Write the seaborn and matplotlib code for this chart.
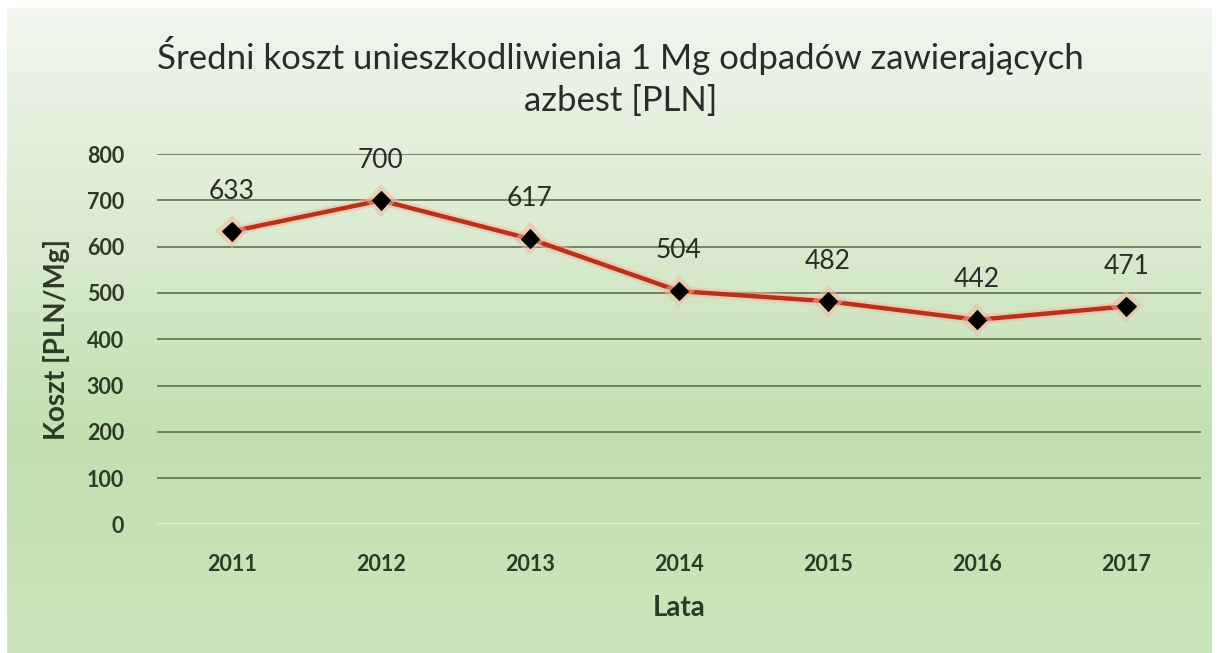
import numpy as np
import matplotlib
matplotlib.use('Agg')
import matplotlib.pyplot as plt
import matplotlib.patheffects as pe
from matplotlib.colors import LinearSegmentedColormap
import seaborn as sns

# Dane
lata = ['2011', '2012', '2013', '2014', '2015', '2016', '2017']
koszt = [633, 700, 617, 504, 482, 442, 471]
y_ticks = [0, 100, 200, 300, 400, 500, 600, 700, 800]

sns.set_theme(style='white')
plt.rcParams['font.family'] = ['Lato', 'DejaVu Sans']

fig = plt.figure(figsize=(12.19, 6.53), dpi=100)

# Tło z gradientem (jasne u góry, zielone na dole)
bg = fig.add_axes([0.006, 0.0, 0.988, 0.988])
grad_cmap = LinearSegmentedColormap.from_list('tlo', ['#f1f6ee', '#dcebd2', '#c3dfb0', '#cde5bb'])
bg.imshow(np.linspace(0, 1, 256).reshape(-1, 1), aspect='auto', cmap=grad_cmap, extent=[0, 1, 1, 0])
bg.axis('off')

ax = fig.add_axes([0.129, 0.197, 0.856, 0.567])
ax.patch.set_alpha(0)

sns.lineplot(x=lata, y=koszt, ax=ax, color='#b8321a', linewidth=3.2,
             marker='D', markersize=9.5, markerfacecolor='black', markeredgecolor='black',
             path_effects=[pe.Stroke(linewidth=7, foreground='#f5b8a0', alpha=0.5), pe.Normal()])

for i, v in enumerate(koszt):
    ax.annotate(str(v), (i, v), xytext=(0, 20), textcoords='offset points',
                ha='center', va='bottom', fontsize=19, color='#2b2b2b')

ax.set_xlim(-0.5, len(lata) - 0.5)
ax.set_ylim(0, 800)
ax.set_yticks(y_ticks)
for t in y_ticks[1:]:
    ax.axhline(t, color='#55664c', linewidth=1.1, zorder=0)
ax.axhline(0, color='#e4efdc', linewidth=1.5, zorder=0)

for s in ax.spines.values():
    s.set_visible(False)
ax.tick_params(axis='both', length=0, labelsize=15.5, labelcolor='#2e3a28')
ax.tick_params(axis='x', pad=21)
ax.tick_params(axis='y', pad=24)
for lab in ax.get_xticklabels() + ax.get_yticklabels():
    lab.set_fontweight('bold')

ax.set_xlabel('Lata', fontsize=20, fontweight='bold', color='#2e3a28', labelpad=15)
ax.set_ylabel('Koszt [PLN/Mg]', fontsize=20, fontweight='bold', color='#2e3a28', labelpad=12)

fig.text(0.509, 0.915, 'Średni koszt unieszkodliwienia 1 Mg odpadów zawierających',
         ha='center', va='center', fontsize=25, color='#2b2b2b')
fig.text(0.509, 0.846, 'azbest [PLN]', ha='center', va='center', fontsize=25, color='#2b2b2b')

fig.savefig('out.png', dpi=100)
